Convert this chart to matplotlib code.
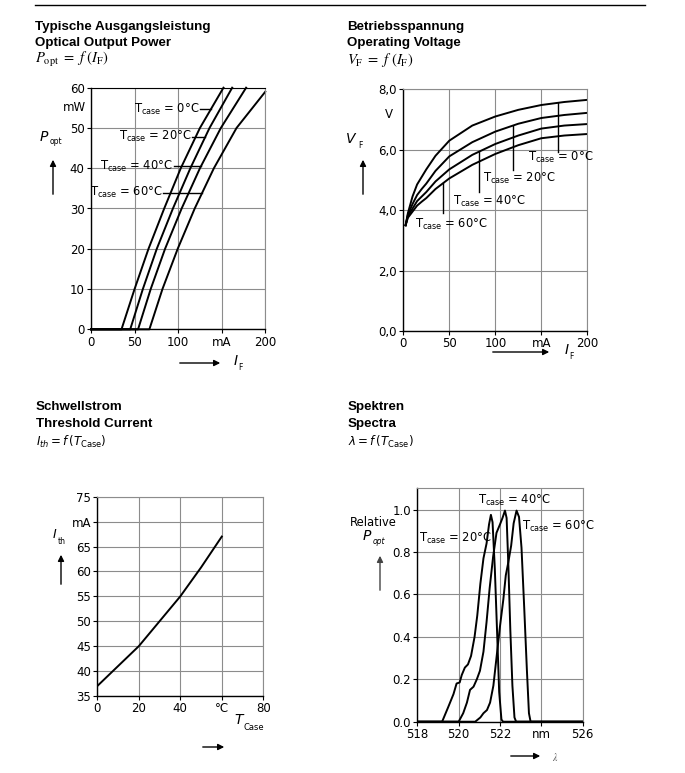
import numpy as np
import matplotlib
matplotlib.use("Agg")
import matplotlib.pyplot as plt
from matplotlib.lines import Line2D

# --- Optical output power P_opt = f(I_F), read at P = 0..60 mW
p_levels = [0, 0, 10, 20, 30, 40, 50, 60]
i_0c = [0, 35, 50, 66, 84, 103, 125, 152]
i_20c = [0, 45, 59.5, 75.5, 94, 114, 136, 162]
i_40c = [0, 54, 68.5, 85, 104, 125, 149, 178]
i_60c = [0, 67, 82, 99.5, 119, 141, 167, 200]
p_60c = [0, 0, 10, 20, 30, 40, 50, 59]

# --- Operating voltage V_F = f(I_F)
vf_current = [2.5, 5, 10, 15, 20, 25, 35, 50, 75, 100, 125, 150, 175, 200]
vf_0c = [3.5, 3.9, 4.45, 4.85, 5.1, 5.35, 5.8, 6.3, 6.8, 7.1, 7.32, 7.48, 7.58, 7.65]
vf_20c = [3.5, 3.85, 4.2, 4.5, 4.7, 4.88, 5.3, 5.78, 6.25, 6.6, 6.86, 7.05, 7.15, 7.22]
vf_40c = [3.5, 3.8, 4.05, 4.3, 4.45, 4.6, 4.95, 5.35, 5.83, 6.19, 6.47, 6.7, 6.8, 6.85]
vf_60c = [3.5, 3.75, 3.95, 4.15, 4.28, 4.4, 4.7, 5.05, 5.5, 5.86, 6.15, 6.38, 6.47, 6.52]

# --- Threshold current I_th = f(T_case)
t_case = [0, 10, 20, 30, 40, 50, 60]
i_th = [37, 41, 45, 50, 55, 60.8, 67]

# --- Spectra
wl_20c = [518, 519.2, 519.5, 519.75, 519.9, 520.05, 520.15, 520.3, 520.45, 520.6, 520.77,
          520.9, 521.05, 521.2, 521.35, 521.47, 521.56, 521.64, 521.75, 521.86, 521.96,
          522.07, 522.15, 526]
sp_20c = [0, 0, 0.07, 0.13, 0.18, 0.185, 0.22, 0.255, 0.27, 0.31, 0.40,
          0.50, 0.65, 0.77, 0.84, 0.93, 0.975, 0.94, 0.72, 0.42, 0.14,
          0.01, 0, 0]
wl_40c = [518, 520.0, 520.22, 520.4, 520.55, 520.72, 520.88, 521.03, 521.2, 521.35, 521.5,
          521.67, 521.83, 522.0, 522.12, 522.24, 522.32, 522.4, 522.5, 522.6, 522.7,
          522.78, 526]
sp_40c = [0, 0, 0.04, 0.09, 0.15, 0.165, 0.20, 0.24, 0.33, 0.47, 0.63,
          0.78, 0.89, 0.93, 0.96, 0.995, 0.96, 0.75, 0.43, 0.17, 0.02,
          0, 0]
wl_60c = [518, 520.8, 521.05, 521.2, 521.37, 521.52, 521.68, 521.84, 522.0, 522.16, 522.28,
          522.4, 522.54, 522.66, 522.8, 522.92, 523.04, 523.17, 523.3, 523.4, 523.48, 526]
sp_60c = [0, 0, 0.02, 0.04, 0.055, 0.09, 0.17, 0.31, 0.45, 0.575, 0.69,
          0.75, 0.83, 0.935, 0.995, 0.965, 0.82, 0.54, 0.245, 0.04, 0, 0]

W, H = 685, 773
plt.rcParams['font.family'] = ['DejaVu Sans']
plt.rcParams['mathtext.fontset'] = 'dejavusans'
TICK_FS = 8.5
LAB_FS = 8.3
GRID_C = '#8c8c8c'


def fx(px):
    return px / W


def fy(py):
    return 1 - py / H


def make_axes(fig, left, top, right, bottom):
    ax = fig.add_axes([fx(left), fy(bottom), fx(right) - fx(left), fy(top) - fy(bottom)])
    ax.grid(True, color=GRID_C, lw=0.8)
    ax.set_axisbelow(True)
    for s in ['top', 'right']:
        ax.spines[s].set_color(GRID_C)
        ax.spines[s].set_linewidth(0.8)
    for s in ['left', 'bottom']:
        ax.spines[s].set_color('black')
        ax.spines[s].set_linewidth(1.0)
    ax.tick_params(direction='out', length=3, width=0.8, labelsize=TICK_FS, pad=1.5,
                   colors='black')
    return ax


def arrow(fig, x0, y0, x1, y1, color='black'):
    fig.add_artist(matplotlib.patches.FancyArrowPatch(
        (fx(x0), fy(y0)), (fx(x1), fy(y1)), transform=fig.transFigure,
        arrowstyle='-|>', mutation_scale=9, lw=1.0, color=color))


def tcase(ax, x, y, temp, ha='left', va='center'):
    ax.text(x, y, r'T$_{\rm case}$ = %d°C' % temp, fontsize=LAB_FS, ha=ha, va=va)


fig = plt.figure(figsize=(W / 100, H / 100), dpi=100)
fig.add_artist(Line2D([fx(35), fx(645)], [fy(5), fy(5)], color='black', lw=1.0))

# titles
bold = dict(fontsize=9.6, fontweight='bold', family='Liberation Sans', va='center')
formula = dict(fontsize=10.5, va='center', math_fontfamily='stix')
fig.text(fx(35), fy(27), 'Typische Ausgangsleistung', **bold)
fig.text(fx(35), fy(43), 'Optical Output Power', **bold)
fig.text(fx(35), fy(60), r'$P_{\rm opt}\ =\ f\ (I_{\rm F})$', **formula)
fig.text(fx(347), fy(27), 'Betriebsspannung', **bold)
fig.text(fx(347), fy(43), 'Operating Voltage', **bold)
fig.text(fx(347), fy(60), r'$V_{\rm F}\ =\ f\ (I_{\rm F})$', **formula)
fig.text(fx(36), fy(407), 'Schwellstrom', **bold)
fig.text(fx(36), fy(424), 'Threshold Current', **bold)
fig.text(fx(36), fy(442), r'$I_{th} = f\,(T_{\rm Case})$', fontsize=8.5, va='center')
fig.text(fx(348), fy(407), 'Spektren', **bold)
fig.text(fx(348), fy(424), 'Spectra', **bold)
fig.text(fx(348), fy(442), r'$\lambda = f\,(T_{\rm Case})$', fontsize=8.5, va='center')

# ---------------- optical output power
ax1 = make_axes(fig, 91, 87.7, 265.3, 329.3)
ax1.spines['top'].set_color('black')
curves1 = [(i_0c, p_levels, 0), (i_20c, p_levels, 20), (i_40c, p_levels, 40), (i_60c, p_60c, 60)]
for ii, pp, t in curves1:
    ax1.plot(ii, pp, color='black', lw=1.4, clip_on=False)
ax1.set_xlim(0, 200)
ax1.set_ylim(0, 60)
ax1.set_xticks([0, 50, 100, 150, 200])
ax1.set_xticklabels(['0', '50', '100', 'mA', '200'])
ax1.set_yticks([0, 10, 20, 30, 40, 50, 60])
ax1.text(-0.03, 55, 'mW', transform=ax1.get_yaxis_transform(), ha='right', va='center',
         fontsize=TICK_FS)
lead1 = [(54.6, 125, 0), (47.8, 116, 20), (40.5, 95, 40), (33.9, 83, 60)]
for (ii, pp, t), (py, x0, _) in zip(curves1, lead1):
    x1 = np.interp(py, pp[1:], ii[1:])
    ax1.plot([x0, x1], [py, py], color='black', lw=1.0)
    tcase(ax1, x0 - 1, py, t, ha='right')
fig.text(fx(39), fy(137), r'$P$', fontsize=10, va='center')
fig.text(fx(49.5), fy(142), 'opt', fontsize=5.5, va='center')
arrow(fig, 53, 197, 53, 157)
arrow(fig, 177, 363, 223, 363)
fig.text(fx(233), fy(361), r'$I$', fontsize=10, va='center')
fig.text(fx(238.5), fy(368), 'F', fontsize=5.5, va='center')

# ---------------- operating voltage
ax2 = make_axes(fig, 403.3, 89.3, 587.3, 331)
vcurves = [(vf_0c, 0), (vf_20c, 20), (vf_40c, 40), (vf_60c, 60)]
for vv, t in vcurves:
    ax2.plot(vf_current, vv, color='black', lw=1.4)
ax2.set_xlim(0, 200)
ax2.set_ylim(0, 8)
ax2.set_xticks([0, 50, 100, 150, 200])
ax2.set_xticklabels(['0', '50', '100', 'mA', '200'])
ax2.set_yticks([0, 2, 4, 6, 8])
ax2.set_yticklabels(['0,0', '2,0', '4,0', '6,0', '8,0'])
ax2.text(-0.08, 7.15, 'V', transform=ax2.get_yaxis_transform(), ha='center', va='center',
         fontsize=TICK_FS)
# leader x, leader bottom, text x, text y
lead2 = [(168.5, 5.94, 136, 5.73), (118.9, 5.33, 87, 5.05), (81.9, 4.61, 53.5, 4.3),
         (43.5, 3.9, 12.5, 3.53)]
for (vv, t), (lx, lb, tx, ty) in zip(vcurves, lead2):
    ax2.plot([lx, lx], [lb, np.interp(lx, vf_current, vv)], color='black', lw=1.0)
    tcase(ax2, tx, ty, t)
fig.text(fx(345), fy(139), r'$V$', fontsize=10, va='center')
fig.text(fx(358), fy(146), 'F', fontsize=5.5, va='center')
arrow(fig, 363, 197, 363, 157)
arrow(fig, 490, 352, 552, 352)
fig.text(fx(564), fy(350), r'$I$', fontsize=10, va='center')
fig.text(fx(569.5), fy(357), 'F', fontsize=5.5, va='center')

# ---------------- threshold current
ax3 = make_axes(fig, 97.3, 496.7, 263.3, 696)
ax3.plot(t_case, i_th, color='black', lw=1.4)
ax3.set_xlim(0, 80)
ax3.set_ylim(35, 75)
ax3.set_xticks([0, 20, 40, 60, 80])
ax3.set_xticklabels(['0', '20', '40', '°C', '80'])
ax3.set_yticks([35, 40, 45, 50, 55, 60, 65, 70, 75])
ax3.set_yticklabels(['35', '40', '45', '50', '55', '60', '65', 'mA', '75'])
fig.text(fx(52), fy(535), r'$I$', fontsize=9, va='center')
fig.text(fx(57.5), fy(541), 'th', fontsize=5.5, va='center')
arrow(fig, 61, 587, 61, 552)
fig.text(fx(234), fy(720), r'$T$', fontsize=10, va='center')
fig.text(fx(243.5), fy(728), 'Case', fontsize=6, va='center')
arrow(fig, 200, 747, 227, 747)

# ---------------- spectra
ax4 = make_axes(fig, 417.3, 488.3, 582.7, 721.7)
for wl, sp in [(wl_20c, sp_20c), (wl_40c, sp_40c), (wl_60c, sp_60c)]:
    ax4.plot(wl, sp, color='black', lw=1.4)
ax4.set_xlim(518, 526)
ax4.set_ylim(0, 1.1)
ax4.set_xticks([518, 520, 522, 524, 526])
ax4.set_xticklabels(['518', '520', '522', 'nm', '526'])
ax4.set_yticks([0, 0.2, 0.4, 0.6, 0.8, 1.0])
ax4.set_yticklabels(['0.0', '0.2', '0.4', '0.6', '0.8', '1.0'])
tcase(ax4, 520.94, 1.044, 40)
tcase(ax4, 523.07, 0.922, 60)
tcase(ax4, 518.08, 0.865, 20)
fig.text(fx(350), fy(523), 'Relative', fontsize=LAB_FS, va='center')
fig.text(fx(362), fy(536), r'$P$', fontsize=10, va='center')
fig.text(fx(372.5), fy(541), 'opt', fontsize=5.5, style='italic', va='center')
arrow(fig, 380, 593, 380, 553, color='#444444')
arrow(fig, 508, 756, 543, 756)
fig.text(fx(552), fy(757), r'$\lambda$', fontsize=7, va='center', color='#555555',
         math_fontfamily='stix')

fig.savefig('out.png', dpi=100)
